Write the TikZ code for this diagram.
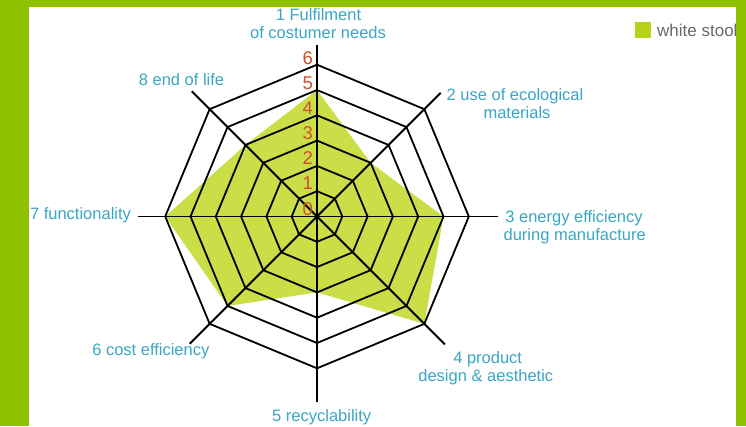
\documentclass[tikz,border=0pt]{standalone}
\usepackage{fontspec}
\setmainfont{Liberation Sans}
\definecolor{framegreen}{RGB}{141,193,0}
\definecolor{datafill}{RGB}{202,222,72}
\definecolor{legfill}{RGB}{184,210,24}
\definecolor{labelc}{RGB}{58,166,196}
\definecolor{numc}{RGB}{208,80,42}
\definecolor{legtext}{RGB}{105,105,105}
\begin{document}
\begin{tikzpicture}[x=1pt,y=-1pt,
  grid/.style={line width=1.8pt, black, line join=miter},
  axislabel/.style={text=labelc, font=\fontsize{16.5}{18}\selectfont, inner sep=0, anchor=base},
  tick/.style={text=numc, font=\fontsize{18.5}{18}\selectfont, inner sep=0, anchor=base}]
\useasboundingbox (0,0) rectangle (746,426);
\fill[framegreen] (0,0) rectangle (746,426);
\fill[white] (29,6.5) rectangle (736,426);

\begin{scope}[shift={(317,216.5)}]
  \coordinate (o) at (0,0);
  % data polygon: values 5,3,5,6,3,5,6,4
  \fill[datafill] (-90:{5*25.3}) -- (-45:{3*25.3}) -- (0:{5*25.3}) -- (45:{6*25.3})
     -- (90:{3*25.3}) -- (135:{5*25.3}) -- (180:{6*25.3}) -- (225:{4*25.3}) -- cycle;
  % rings
  \foreach \k in {1,...,6}{
    \pgfmathsetmacro\r{\k*25.3}
    \draw[grid] (-90:\r) -- (-45:\r) -- (0:\r) -- (45:\r) -- (90:\r) -- (135:\r) -- (180:\r) -- (225:\r) -- cycle;
  }
  % axes
  \foreach \a/\len/\n in {-90/172/1, -45/175/2, 0/181/3, 45/181/4, 90/185/5, 135/180/6, 180/179/7, 225/177/8}{
    \coordinate (e\n) at (\a:\len);
    \draw[grid] (o) -- (e\n);
  }
\end{scope}

% scale numbers
\foreach \k in {0,...,6}{
  \node[tick] (n\k) at (307.8,{215-25.1*\k}) {\k};
}

% axis labels
\node[axislabel] (l1a) at (318.5,20.5) {1 Fulfilment};
\node[axislabel] (l1b) at (318,38) {of costumer needs};
\node[axislabel] (l2a) at (515,100) {2 use of ecological};
\node[axislabel] (l2b) at (517,118.3) {materials};
\node[axislabel] (l3a) at (574,222.7) {3 energy efficiency};
\node[axislabel] (l3b) at (574.7,240.5) {during manufacture};
\node[axislabel] (l4a) at (487.7,363.3) {4 product};
\node[axislabel] (l4b) at (485.8,381.7) {design \& aesthetic};
\node[axislabel] (l5) at (321.7,421.7) {5 recyclability};
\node[axislabel] (l6) at (150.8,355) {6 cost efficiency};
\node[axislabel] (l7) at (80.5,219.3) {7 functionality};
\node[axislabel] (l8) at (181.5,85) {8 end of life};

% legend
\fill[legfill] (635,22) rectangle (650.5,38);
\node[text=legtext, font=\fontsize{17}{18}\selectfont, inner sep=0, anchor=base west] (leg) at (657,36.5) {white stool};

% frame strips on top
\fill[framegreen] (736,0) rectangle (746,426);
\fill[framegreen] (0,0) rectangle (29,426);
\end{tikzpicture}
\end{document}
